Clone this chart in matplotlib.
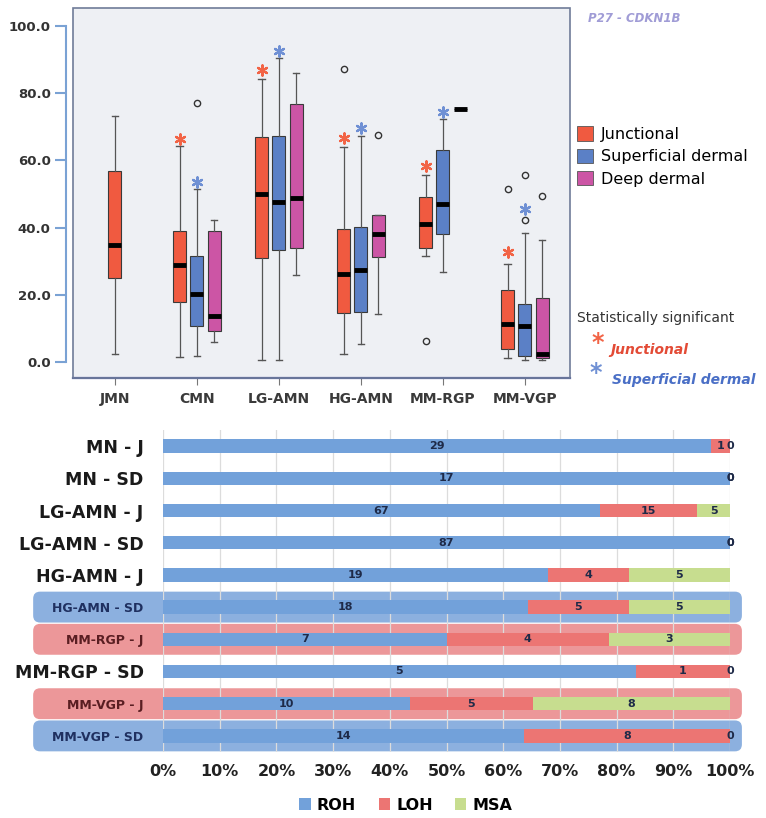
import numpy as np
import matplotlib
matplotlib.use("Agg")
import matplotlib.pyplot as plt
from matplotlib.patches import Patch, FancyBboxPatch, Rectangle
from matplotlib.transforms import IdentityTransform

# ---- box plot data (P27 - CDKN1B) ----
groups = ['JMN', 'CMN', 'LG-AMN', 'HG-AMN', 'MM-RGP', 'MM-VGP']
layers = ['Junctional', 'Superficial dermal', 'Deep dermal']

junc_whislo = [2.2, 1.5, 0.7, 2.2, 31.6, 1.2]
junc_q1 = [25.0, 17.8, 31.0, 14.6, 33.8, 3.8]
junc_med = [34.8, 29.0, 49.9, 26.1, 41.2, 11.4]
junc_q3 = [56.9, 39.0, 67.0, 39.7, 49.2, 21.5]
junc_whishi = [73.2, 64.3, 84.4, 64.1, 55.6, 29.1]
junc_fliers = [[], [], [], [87.1], [6.3], [51.4]]
junc_sig = [None, 66.4, 86.9, 66.7, 58.4, 32.6]

supd_whislo = [None, 1.7, 0.7, 5.2, 26.8, 0.7]
supd_q1 = [None, 10.7, 33.3, 14.9, 38.2, 1.8]
supd_med = [None, 20.2, 47.5, 27.5, 47.0, 10.7]
supd_q3 = [None, 31.6, 67.2, 40.2, 63.1, 17.1]
supd_whishi = [None, 51.4, 90.6, 67.2, 72.2, 38.5]
supd_fliers = [[], [77.0], [], [], [], [55.6, 42.2]]
supd_sig = [None, 53.6, 92.7, 69.8, 74.5, 45.4]

deep_whislo = [None, 5.8, 25.8, 14.4, 75.2, 0.7]
deep_q1 = [None, 9.2, 33.8, 31.3, 75.2, 1.3]
deep_med = [None, 13.7, 48.7, 38.0, 75.2, 2.3]
deep_q3 = [None, 39.0, 76.7, 43.7, 75.2, 19.1]
deep_whishi = [None, 42.2, 86.1, 43.7, 75.2, 36.4]
deep_fliers = [[], [], [], [67.5], [], [49.4]]

# ---- stacked bar data ----
rows = ['MN - J', 'MN - SD', 'LG-AMN - J', 'LG-AMN - SD', 'HG-AMN - J',
        'HG-AMN - SD', 'MM-RGP - J', 'MM-RGP - SD', 'MM-VGP - J', 'MM-VGP - SD']
roh = [29, 17, 67, 87, 19, 18, 7, 5, 10, 14]
loh = [1, 0, 15, 0, 4, 5, 4, 1, 5, 8]
msa = [0, 0, 5, 0, 5, 5, 3, 0, 8, 0]
highlight = {5: 'blue', 6: 'red', 8: 'red', 9: 'blue'}

box_colors = ['#f05a40', '#5b80c6', '#cc55a5']
star_colors = ['#f26446', '#6f90d4']
bar_colors = ['#72a1da', '#ec7573', '#c7dd8f']
hl_colors = {'blue': '#80a8dc', 'red': '#ea8c8e'}

fig = plt.figure(figsize=(7.66, 8.18), dpi=100)

# ================= top: box plots =================
ax = fig.add_axes([73 / 766, 1 - 378 / 818, 497 / 766, 370 / 818])
ax.set_facecolor('#eef0f4')
# spine placement first: set_position resets the ticks
for s in ['top', 'right']:
    ax.spines[s].set_visible(False)
ax.spines['bottom'].set_color('#4b55a8')
ax.spines['bottom'].set_linewidth(1.6)
ax.spines['left'].set_position(('outward', 5))
ax.spines['left'].set_bounds(0, 100)
ax.spines['left'].set_color('#7aa2d4')
ax.spines['left'].set_linewidth(1.5)

offsets = [-0.21, 0.0, 0.21]
series = [
    (junc_whislo, junc_q1, junc_med, junc_q3, junc_whishi, junc_fliers),
    (supd_whislo, supd_q1, supd_med, supd_q3, supd_whishi, supd_fliers),
    (deep_whislo, deep_q1, deep_med, deep_q3, deep_whishi, deep_fliers),
]
for k, (wl, q1, md, q3, wh, fl) in enumerate(series):
    stats, pos = [], []
    for g in range(len(groups)):
        if md[g] is None:
            continue
        stats.append(dict(med=md[g], q1=q1[g], q3=q3[g], whislo=wl[g],
                          whishi=wh[g], fliers=fl[g]))
        # JMN only has junctional, drawn at the group centre
        pos.append(g if g == 0 else g + offsets[k])
    ax.bxp(stats, positions=pos, widths=0.16, patch_artist=True,
           showcaps=True, manage_ticks=False,
           boxprops=dict(facecolor=box_colors[k], edgecolor='#3a3a3a', linewidth=0.8),
           medianprops=dict(color='black', linewidth=3.5, solid_capstyle='butt'),
           whiskerprops=dict(color='#555555', linewidth=0.9),
           capprops=dict(color='#555555', linewidth=1.0),
           flierprops=dict(marker='o', markerfacecolor='none', markeredgecolor='#333333',
                           markersize=4.5, markeredgewidth=1.0))

for k, sig in enumerate([junc_sig, supd_sig]):
    xs = [g + offsets[k] for g in range(len(groups)) if sig[g] is not None]
    ys = [s for s in sig if s is not None]
    ax.scatter(xs, ys, marker=(6, 2, 0), s=55, color=star_colors[k],
               linewidths=1.6, zorder=5)

ax.set_xlim(-0.51, 5.55)
ax.set_ylim(-4.8, 105.4)
ax.set_xticks(range(len(groups)))
ax.set_xticklabels(groups, fontsize=10, fontweight='bold', color='#3a3a3a')
ax.set_yticks(np.arange(0, 101, 20))
ax.set_yticklabels([f'{v:.1f}' for v in np.arange(0, 101, 20)],
                   fontsize=9.5, fontweight='bold', color='#333333')
ax.tick_params(axis='x', length=5, color='#777777', pad=5)
ax.tick_params(axis='y', length=8, width=1.5, color='#7aa2d4', pad=3)
ax.add_patch(Rectangle((0, 0), 1, 1, transform=ax.transAxes, fill=False,
                       edgecolor='#6f7c98', linewidth=1.2, clip_on=False, zorder=6))

fig.text(588 / 766, 1 - 19 / 818, 'P27 - CDKN1B', fontsize=8.5, fontweight='bold',
         fontstyle='italic', color='#a09cd6', va='center', ha='left')

handles = [Patch(facecolor=c, edgecolor='#555555', linewidth=0.6) for c in box_colors]
fig.legend(handles, layers, loc='upper left', bbox_to_anchor=(571 / 766, 1 - 120 / 818),
           frameon=False, fontsize=11.5, handlelength=1.0, handleheight=1.0,
           handletextpad=0.45, labelspacing=0.42, borderaxespad=0)

fig.text(577 / 766, 1 - 318 / 818, 'Statistically significant', fontsize=10,
         color='#333333', va='center', ha='left')
fig.text(598 / 766, 1 - 343 / 818, '*', fontsize=17, fontweight='bold',
         color=star_colors[0], va='center', ha='center')
fig.text(610 / 766, 1 - 350 / 818, 'Junctional', fontsize=10, fontweight='bold',
         fontstyle='italic', color='#e34b36', va='center', ha='left')
fig.text(596 / 766, 1 - 373 / 818, '*', fontsize=17, fontweight='bold',
         color=star_colors[1], va='center', ha='center')
fig.text(612 / 766, 1 - 380 / 818, 'Superficial dermal', fontsize=10, fontweight='bold',
         fontstyle='italic', color='#4a6fc6', va='center', ha='left')

# ================= bottom: stacked bars =================
bx = fig.add_axes([163 / 766, 1 - 752 / 818, 567 / 766, 322 / 818])
y = np.arange(len(rows))
tot = np.array(roh) + np.array(loh) + np.array(msa)
p_roh = np.array(roh) / tot * 100
p_loh = np.array(loh) / tot * 100
p_msa = np.array(msa) / tot * 100

bx.set_xlim(0, 100)
bx.set_ylim(len(rows) - 0.5, -0.5)

left = np.zeros(len(rows))
for vals, pct, col in [(roh, p_roh, bar_colors[0]), (loh, p_loh, bar_colors[1]),
                       (msa, p_msa, bar_colors[2])]:
    bx.barh(y, pct, left=left, height=0.42, color=col, zorder=2)
    for i in range(len(rows)):
        bx.text(left[i] + pct[i] / 2, y[i], str(vals[i]), fontsize=8,
                fontweight='bold', color='#1e2a48', ha='center', va='center', zorder=4)
    left = left + pct

bx.set_xticks(np.arange(0, 101, 10))
bx.set_xticklabels([f'{v}%' for v in range(0, 101, 10)], fontsize=11.5,
                   fontweight='bold', color='#222222')
bx.set_yticks(y)
bx.set_yticklabels(rows)
bx.tick_params(length=0)
bx.tick_params(axis='y', pad=14)
bx.tick_params(axis='x', pad=9)
bx.grid(axis='x', color='#dcdcdc', linewidth=0.9, zorder=0)
bx.set_axisbelow(True)
for s in bx.spines.values():
    s.set_visible(False)

for i, lab in enumerate(bx.get_yticklabels()):
    if i in highlight:
        lab.set_fontsize(9)
        lab.set_fontweight('bold')
        lab.set_color('#1f3060' if highlight[i] == 'blue' else '#5a1e22')
    else:
        lab.set_fontsize(12.5)
        lab.set_fontweight('bold')
        lab.set_color('#1a1a1a')

# rounded highlight bands behind the marked rows
for i, c in highlight.items():
    x0, y0 = bx.transAxes.transform((-0.229, 0))[0], bx.transData.transform((0, y[i] + 0.48))[1]
    x1, y1 = bx.transAxes.transform((1.021, 0))[0], bx.transData.transform((0, y[i] - 0.48))[1]
    bx.add_patch(FancyBboxPatch((x0, y0), x1 - x0, y1 - y0,
                                boxstyle='round,pad=0,rounding_size=7',
                                transform=IdentityTransform(), facecolor=hl_colors[c],
                                edgecolor='none', alpha=0.9, clip_on=False, zorder=0.5))

bh = [Patch(facecolor=c, edgecolor='none') for c in bar_colors]
fig.legend(bh, ['ROH', 'LOH', 'MSA'], loc='center', bbox_to_anchor=(0.53, 13 / 818),
           ncol=3, frameon=False, handlelength=0.7, handleheight=0.7,
           handletextpad=0.4, columnspacing=1.4, prop=dict(weight='bold', size=11.5))

fig.savefig('out.png', dpi=100)
